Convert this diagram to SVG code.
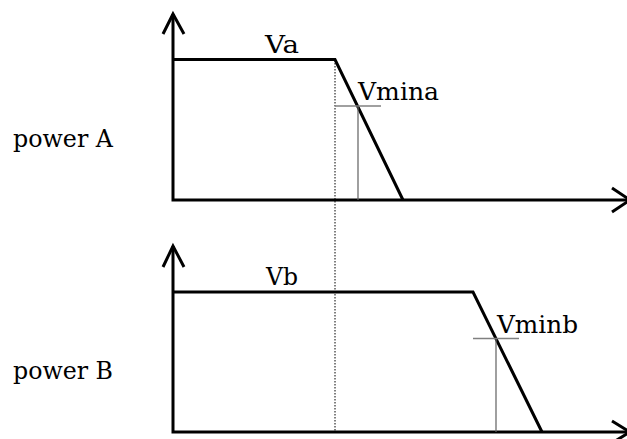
<svg xmlns="http://www.w3.org/2000/svg" width="627" height="439" viewBox="0 0 627 439">
<style>
text{font-family:"DejaVu Serif","Liberation Serif",serif;font-size:25px;fill:#000}
.ax{fill:none;stroke:#000;stroke-width:3;stroke-linejoin:miter}
.curve{fill:none;stroke:#000;stroke-width:3;stroke-linejoin:miter}
.tick{fill:none;stroke:#808080;stroke-width:1.5}
.vt{fill:none;stroke:#606060;stroke-width:1.2}
.dot{fill:none;stroke:#000;stroke-width:1;stroke-dasharray:1.5,1.5}
</style>
<rect width="627" height="439" fill="#fff"/>
<g id="axes">
<path class="ax" d="M173,14 V200 H629"/>
<path class="ax" d="M163,34 L173,14 L184,34"/>
<path class="ax" d="M612,188 L630,200 L612,212"/>
<path class="ax" d="M173,246 V432 H629"/>
<path class="ax" d="M163,267 L173,246 L184,267"/>
<path class="ax" d="M612,421 L630,432 L612,443"/>
</g>
<g id="connectors">
<line class="dot" x1="335" y1="60" x2="335" y2="431"/>
</g>
<g id="powerA">
<path class="curve" d="M173,59.5 H335 L403,200"/>
<line class="tick" x1="335" y1="106" x2="381" y2="106"/>
<line class="vt" x1="358" y1="106" x2="358" y2="200"/>
<text x="265" y="53" textLength="34" lengthAdjust="spacingAndGlyphs">Va</text>
<text x="358" y="100" textLength="81" lengthAdjust="spacingAndGlyphs">Vmina</text>
<text x="13" y="147" textLength="100" lengthAdjust="spacingAndGlyphs">power A</text>
</g>
<g id="powerB">
<path class="curve" d="M173,292 H473 L542,432"/>
<line class="tick" x1="473" y1="338.5" x2="519" y2="338.5"/>
<line class="vt" x1="496" y1="338.5" x2="496" y2="432"/>
<text x="266" y="285" textLength="32" lengthAdjust="spacingAndGlyphs">Vb</text>
<text x="497" y="333" textLength="81" lengthAdjust="spacingAndGlyphs">Vminb</text>
<text x="13" y="379" textLength="100" lengthAdjust="spacingAndGlyphs">power B</text>
</g>
</svg>
